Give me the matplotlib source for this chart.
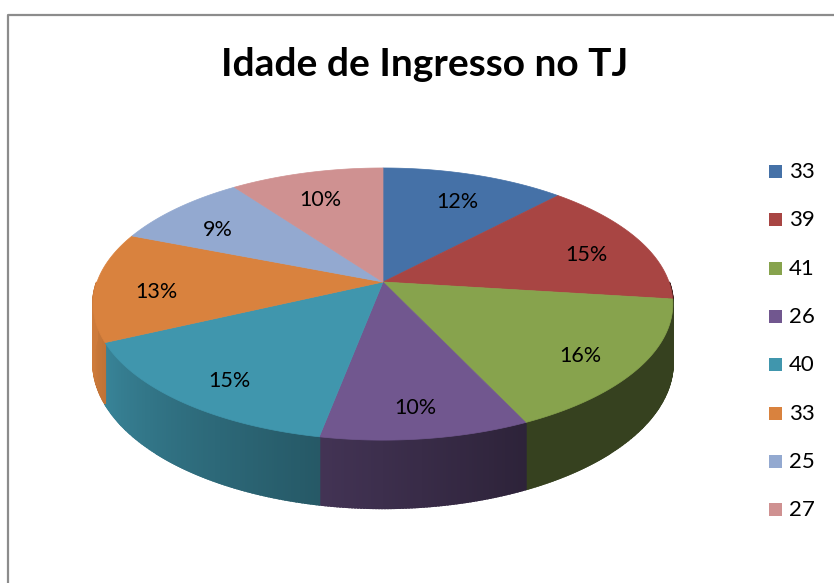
import numpy as np
import matplotlib
matplotlib.use('Agg')
import matplotlib.pyplot as plt
from matplotlib.colors import to_rgb
from matplotlib.patches import Polygon

# chart data (percent shares)
categories = ['33', '39', '41', '26', '40', '33', '25', '27']
shares = [12, 15, 16, 10, 15, 13, 9, 10]
colors = ['#4571A7', '#A84543', '#87A34D', '#71578F', '#4096AD', '#D9823E', '#93A9D0', '#CF9191']
title = 'Idade de Ingresso no TJ'

W, H = 834, 583
cx, cy = 383, 282       # apex of the pie on screen
R, A, K = 286, 132.5, 0.162  # width radius, depth radius, perspective
DEPTH = 57


def project(theta, r=1.0, z=0.0):
    # theta in degrees, 0 = back, clockwise seen from above
    t = np.radians(theta)
    X = r * np.sin(t)
    Y = -r * np.cos(t)
    d = 1 - K * Y
    return cx + R * X / d, cy + (A * Y + z) / d


def shade(theta):
    f = 0.4 + (theta - 155) / 90 * 0.48
    return np.clip(f, 0.4, 0.95)


fig = plt.figure(figsize=(W / 100, H / 100), dpi=100)
ax = fig.add_axes([0, 0, 1, 1])
ax.set_xlim(0, W)
ax.set_ylim(H, 0)
ax.axis('off')

# frame of the chart area
ax.plot([8, 8, W + 5], [H + 5, 15, 15], color='#8c8c8c', lw=1.6, solid_capstyle='butt')

total = float(sum(shares))
bounds = np.concatenate([[0], np.cumsum(shares) / total * 360])

# side walls (front half only)
for i in range(len(shares)):
    a0, a1 = max(bounds[i], 90), min(bounds[i + 1], 270)
    if a1 <= a0:
        continue
    base = np.array(to_rgb(colors[i]))
    ts = np.linspace(a0, a1, max(int((a1 - a0) * 2), 2))
    for t0, t1 in zip(ts[:-1], ts[1:]):
        x0, y0 = project(t0)
        x1, y1 = project(t1)
        x0b, y0b = project(t0, z=DEPTH)
        x1b, y1b = project(t1, z=DEPTH)
        c = base * shade((t0 + t1) / 2)
        ax.add_patch(Polygon([(x0, y0), (x1, y1), (x1b, y1b), (x0b, y0b)],
                             closed=True, fc=c, ec=c, lw=1.5))

# top faces
for i in range(len(shares)):
    ts = np.linspace(bounds[i], bounds[i + 1], 80)
    xs, ys = project(ts)
    pts = [(cx, cy)] + list(zip(xs, ys))
    ax.add_patch(Polygon(pts, closed=True, fc=colors[i], ec=colors[i], lw=0.5))

# percentage labels
for i, s in enumerate(shares):
    mid = (bounds[i] + bounds[i + 1]) / 2
    lx, ly = project(mid, r=0.79)
    ax.text(lx, ly + 7, '%d%%' % round(s / total * 100), ha='center', va='center',
            fontsize=15.5, family='Lato', color='black')

ax.text(425, 64, title, ha='center', va='center', fontsize=28,
        fontweight='bold', family='Lato')

# legend
for i, name in enumerate(categories):
    ly = 172 + i * 48.3
    ax.add_patch(plt.Rectangle((769, ly - 7), 13, 13, fc=colors[i], ec='none'))
    ax.text(789, ly, name, ha='left', va='center', fontsize=16, family='Lato')

fig.savefig('out.png', dpi=100)
